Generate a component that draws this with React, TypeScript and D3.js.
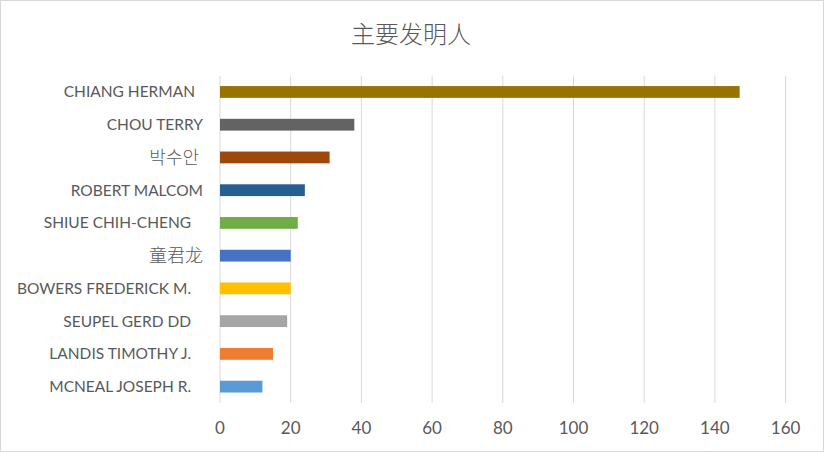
import React from "react";
import * as d3 from "d3";

const categories = [
  "CHIANG HERMAN",
  "CHOU TERRY",
  "박수안",
  "ROBERT MALCOM",
  "SHIUE CHIH-CHENG",
  "童君龙",
  "BOWERS FREDERICK M.",
  "SEUPEL GERD DD",
  "LANDIS TIMOTHY J.",
  "MCNEAL JOSEPH R.",
];
const values = [147, 38, 31, 24, 22, 20, 20, 19, 15, 12];
const colors = [
  "#997300", "#636363", "#9E480E", "#255E91", "#70AD47",
  "#4472C4", "#FFC000", "#A5A5A5", "#ED7D31", "#5B9BD5",
];
const ticks = [0, 20, 40, 60, 80, 100, 120, 140, 160];
const labelPad = ["  ", "", " ", "", "   ", "", "   ", "   ", "   ", "   "];
const title = "主要发明人";

const W = 824;
const H = 452;
const left = 220;
const right = 785.6;
const top = 75.6;
const bottom = 403;

export default function App() {
  const x = d3.scaleLinear().domain([0, 160]).range([left, right]);
  const y = d3.scaleBand<string>().domain(categories).range([top, bottom]).paddingInner(0.64).paddingOuter(0.32);
  const bh = 11.8;
  const isCJK = (c: string) => /[^\x00-\x7f]/.test(c);
  return (
    <svg width={W} height={H} style={{ position: "absolute", left: 0, top: 0, background: "#fff" }}>
      <rect x={0.5} y={0.5} width={W - 1} height={H - 1} fill="#fff" stroke="#D9D9D9" />
      <text x={411} y={43} textAnchor="middle" fontSize={24} fill="#595959"
        fontFamily="'Noto Sans CJK SC', sans-serif" fontWeight={300}>{title}</text>
      {ticks.map((t) => (
        <line key={"g" + t} x1={x(t)} x2={x(t)} y1={top} y2={bottom} stroke="#D9D9D9" strokeWidth={1} />
      ))}
      {categories.map((c, i) => {
        const cy = (y(c) as number) + y.bandwidth() / 2;
        return (
          <g key={c}>
            <rect x={x(0)} y={cy - bh / 2} width={x(values[i]) - x(0)} height={bh} fill={colors[i]} />
            <text x={203} y={cy} dy="0.35em" textAnchor="end" fontSize={isCJK(c) ? 18 : 15.5}
              fill="#595959" fontFamily={isCJK(c)
                ? (/[가-힣]/.test(c) ? "'Noto Sans CJK KR', sans-serif" : "'Noto Sans CJK SC', sans-serif")
                : "Lato, sans-serif"}
              style={{ whiteSpace: "pre" }} fontWeight={isCJK(c) ? 300 : 400}>
              {c + labelPad[i]}
            </text>
          </g>
        );
      })}
      {ticks.map((t) => (
        <text key={"t" + t} x={x(t)} y={434} textAnchor="middle" fontSize={17} fill="#595959"
          fontFamily="Lato, sans-serif">{t}</text>
      ))}
    </svg>
  );
}
